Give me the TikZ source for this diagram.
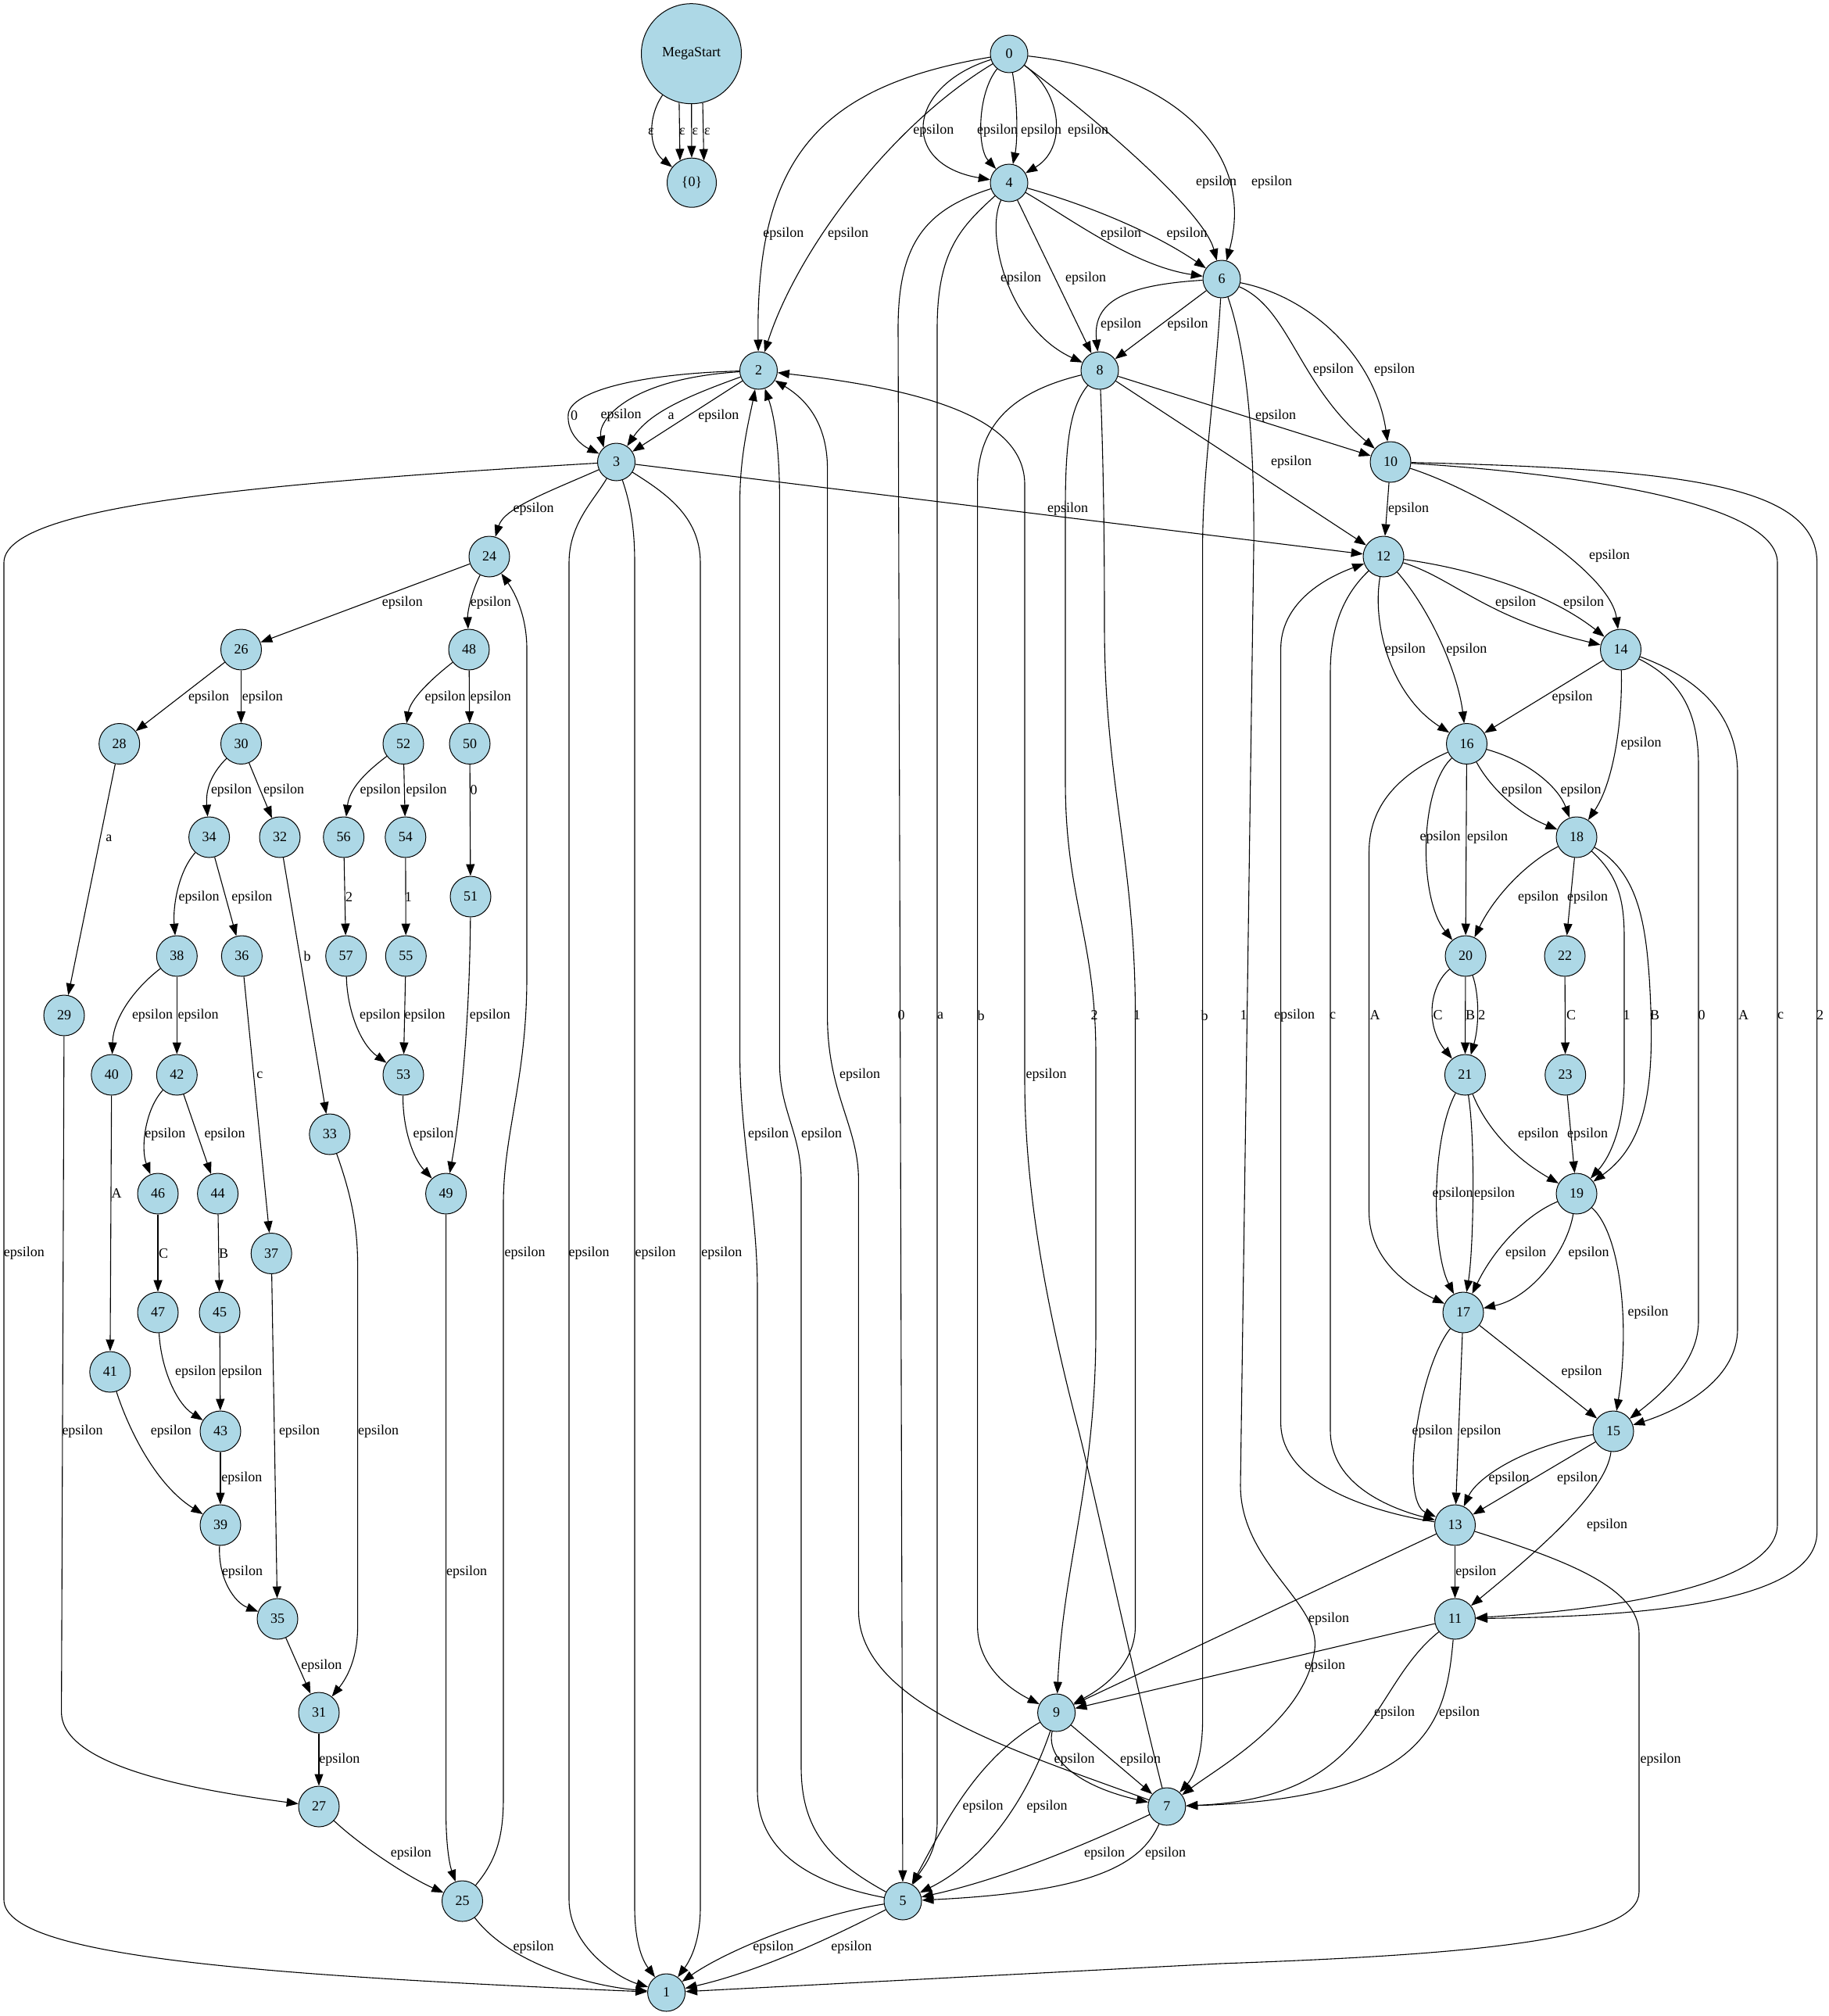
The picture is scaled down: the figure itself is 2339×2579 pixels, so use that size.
\documentclass[tikz,border=0pt]{standalone}
\usepackage{fontspec}
\setmainfont{Liberation Serif}
\usetikzlibrary{arrows.meta}
\definecolor{statefill}{HTML}{ADD8E6}
\begin{document}
\begin{tikzpicture}[x=0.5pt,y=-0.5pt,
  st/.style={circle,draw=black,fill=statefill,line width=0.5pt,inner sep=0pt,minimum size=24pt,font=\fontsize{9}{11}\selectfont},
  stw/.style={st,minimum size=26pt},
  e/.style={draw=black,line width=0.55pt,-{Triangle[length=7.5pt,width=5.5pt]}},
  lbl/.style={inner sep=0pt,font=\fontsize{9}{11}\selectfont}]
\useasboundingbox (0,0) rectangle (2339,2579);

% ---------- states ----------
\node[st,minimum size=64pt] (MS) at (884.5,68.7) {MegaStart};
\node[st,minimum size=31.5pt] (S0) at (885,233.7) {\{0\}};
\node[st] (n0) at (1291,69) {0};
\node[st] (n4) at (1291,234) {4};
\node[st] (n2) at (970.5,474) {2};
\node[st] (n8) at (1407,474) {8};
\node[st] (n6) at (1563,357) {6};
\node[st] (n3) at (788.5,591) {3};
\node[stw] (n10) at (1779,591) {10};
\node[stw] (n12) at (1770,712) {12};
\node[stw] (n24) at (626,712) {24};
\node[stw] (n26) at (308.5,831) {26};
\node[stw] (n48) at (600,831) {48};
\node[stw] (n14) at (2073.5,831) {14};
\node[stw] (n28) at (152.7,951.5) {28};
\node[stw] (n30) at (308.5,951.5) {30};
\node[stw] (n52) at (516,951.5) {52};
\node[stw] (n50) at (601,951.5) {50};
\node[stw] (n16) at (1876.5,951.5) {16};
\node[stw] (n34) at (267.6,1071) {34};
\node[stw] (n32) at (358,1071) {32};
\node[stw] (n56) at (439.7,1071) {56};
\node[stw] (n54) at (518.8,1071) {54};
\node[stw] (n18) at (2017,1071) {18};
\node[stw] (n51) at (602,1147) {51};
\node[stw] (n38) at (226.3,1223) {38};
\node[stw] (n36) at (309.4,1223) {36};
\node[stw] (n57) at (442.7,1223) {57};
\node[stw] (n55) at (519.3,1223) {55};
\node[stw] (n20) at (1875,1223) {20};
\node[stw] (n22) at (2002,1223) {22};
\node[stw] (n29) at (82,1299) {29};
\node[stw] (n40) at (142.8,1375) {40};
\node[stw] (n42) at (226.3,1375) {42};
\node[stw] (n53) at (516,1375) {53};
\node[stw] (n21) at (1874.4,1375) {21};
\node[stw] (n23) at (2002.7,1375) {23};
\node[stw] (n33) at (421.8,1451) {33};
\node[stw] (n46) at (202,1527) {46};
\node[stw] (n44) at (278.6,1527) {44};
\node[stw] (n49) at (570.6,1527) {49};
\node[stw] (n19) at (2017,1527) {19};
\node[stw] (n37) at (347.2,1603.5) {37};
\node[stw] (n47) at (202,1679) {47};
\node[stw] (n45) at (281,1679) {45};
\node[stw] (n17) at (1872,1679) {17};
\node[stw] (n41) at (140.8,1755) {41};
\node[stw] (n43) at (282,1831) {43};
\node[stw] (n15) at (2064,1831) {15};
\node[stw] (n39) at (282,1951) {39};
\node[stw] (n13) at (1861.5,1951) {13};
\node[stw] (n35) at (355,2071) {35};
\node[stw] (n11) at (1861.5,2071) {11};
\node[stw] (n31) at (408,2191) {31};
\node[st] (n9) at (1351.6,2191) {9};
\node[stw] (n27) at (408,2311) {27};
\node[st] (n7) at (1492.8,2311) {7};
\node[stw] (n25) at (591.5,2432) {25};
\node[st] (n5) at (1155,2432) {5};
\node[st] (n1) at (852.6,2549) {1};

% ---------- start fan ----------
\draw[e] (MS) .. controls (828,150) and (830,190) .. (S0);
\draw[e] (MS.256.5) -- (S0.118.4);
\draw[e] (MS) -- (S0);
\draw[e] (MS.283.5) -- (S0.61.6);

% ---------- upper block ----------
\draw[e] (n0) .. controls (1050,110) and (966.5,200) .. (n2);
\draw[e] (n0) .. controls (1140,160) and (1020,320) .. (n2);
\draw[e] (n0) .. controls (1160,110) and (1150,210) .. (n4);
\draw[e] (n0) .. controls (1250,120) and (1250,190) .. (n4);
\draw[e] (n0) .. controls (1302,130) and (1302,180) .. (n4);
\draw[e] (n0) .. controls (1360,120) and (1365,190) .. (n4);
\draw[e] (n0) .. controls (1400,150) and (1540,270) .. (n6);
\draw[e] (n0) .. controls (1480,90) and (1610,180) .. (n6);

\draw[e] (n4) .. controls (1185,268) and (1149,310) .. (1149,420) -- (n5);
\draw[e] (n4) .. controls (1230,290) and (1199,320) .. (1199,420) -- (1199,2330) .. controls (1199,2370) and (1180,2390) .. (n5);
\draw[e] (n4) .. controls (1370,280) and (1450,340) .. (n6);
\draw[e] (n4) .. controls (1400,265) and (1480,300) .. (n6);
\draw[e] (n4) .. controls (1260,300) and (1290,420) .. (n8);
\draw[e] (n4) -- (n8);

\draw[e] (n6) .. controls (1430,365) and (1398,390) .. (n8);
\draw[e] (n6) -- (n8);
\draw[e] (n6) .. controls (1650,395) and (1660,490) .. (n10);
\draw[e] (n6) .. controls (1680,380) and (1760,460) .. (n10);
\draw[e] (n6) .. controls (1555,500) and (1538.6,600) .. (1538.6,700) -- (1538.6,2200) .. controls (1538.6,2240) and (1530,2270) .. (n7);
\draw[e] (n6) .. controls (1595,450) and (1605,560) .. (1604,700) -- (1587,1900) .. controls (1587,2000) and (1690,2050) .. (1682,2110) .. controls (1670,2200) and (1560,2260) .. (n7);

\draw[e] (n8) -- (n10);
\draw[e] (n8) -- (n12);
\draw[e] (n8) .. controls (1300,500) and (1250.6,540) .. (1250.6,620) -- (1250.6,2080) .. controls (1250.6,2130) and (1290,2160) .. (n9);
\draw[e] (n8) .. controls (1370,520) and (1363,560) .. (1363,650) -- (1363,1000) .. controls (1363,1150) and (1402,1200) .. (1402,1350) -- (1402,1700) .. controls (1402,1900) and (1360,2000) .. (n9);
\draw[e] (n8) .. controls (1412,600) and (1413,700) .. (1413,800) .. controls (1413,1000) and (1452.5,1100) .. (1452.5,1300) -- (1452.5,2080) .. controls (1452.5,2130) and (1410,2160) .. (n9);

\draw[e] (n2) .. controls (820,478) and (730,500) .. (727,530) .. controls (725,555) and (745,570) .. (n3);
\draw[e] (n2) .. controls (800,485) and (764,540) .. (n3.131);
\draw[e] (n2) .. controls (870,510) and (830,530) .. (n3);
\draw[e] (n2) -- (n3);

% ---------- right block ----------
\draw[e] (n3) -- (n12);
\draw[e] (n10) -- (n12);
\draw[e] (n10) .. controls (1900,630) and (2060,730) .. (n14);
\draw[e] (n10) .. controls (2000,605) and (2274,640) .. (2274,720) -- (2274,1950) .. controls (2274,2030) and (2050,2060) .. (n11);
\draw[e] (n10) .. controls (2150,600) and (2324.6,620) .. (2324.6,720) -- (2324.6,1960) .. controls (2324.6,2060) and (2050,2068) .. (n11);

\draw[e] (n12) .. controls (1860,740) and (1900,790) .. (n14);
\draw[e] (n12) .. controls (1900,730) and (1990,765) .. (n14);
\draw[e] (n12) .. controls (1755,800) and (1780,890) .. (n16);
\draw[e] (n12) .. controls (1830,780) and (1865,860) .. (n16);
\draw[e] (n12) .. controls (1720,760) and (1702,800) .. (1702,860) -- (1702,1830) .. controls (1702,1900) and (1780,1930) .. (n13);
\draw[e] (n13) .. controls (1760,1935) and (1638.6,1900) .. (1638.6,1820) -- (1638.6,830) .. controls (1638.6,780) and (1680,745) .. (n12);

\draw[e] (n14) -- (n16);
\draw[e] (n14) .. controls (2076,920) and (2065,1000) .. (n18);
\draw[e] (n14) .. controls (2150,870) and (2173,910) .. (2173,980) -- (2173,1690) .. controls (2173,1740) and (2130,1780) .. (n15);
\draw[e] (n14) .. controls (2180,870) and (2223,920) .. (2223,990) -- (2223,1700) .. controls (2223,1760) and (2160,1800) .. (n15);

\draw[e] (n16) .. controls (1905,1005) and (1940,1040) .. (n18);
\draw[e] (n16) .. controls (1960,975) and (1995,1010) .. (n18);
\draw[e] (n16) .. controls (1815,1010) and (1815,1150) .. (n20);
\draw[e] (n16) -- (n20);
\draw[e] (n16) .. controls (1790,990) and (1751.5,1030) .. (1751.5,1090) -- (1751.5,1550) .. controls (1751.5,1610) and (1800,1645) .. (n17);

\draw[e] (n18) .. controls (1950,1105) and (1910,1150) .. (n20);
\draw[e] (n18) -- (n22);
\draw[e] (n18) .. controls (2070,1120) and (2078,1150) .. (2078,1200) -- (2078,1380) .. controls (2078,1440) and (2060,1480) .. (n19);
\draw[e] (n18) .. controls (2095,1115) and (2105,1180) .. (2110,1250) .. controls (2118,1380) and (2110,1460) .. (n19);

\draw[e] (n20) .. controls (1830,1260) and (1822,1310) .. (n21);
\draw[e] (n20) -- (n21);
\draw[e] (n20) .. controls (1892,1270) and (1893,1310) .. (n21);
\draw[e] (n22) -- (n23);

\draw[e] (n21) .. controls (1900,1440) and (1935,1480) .. (n19);
\draw[e] (n23) -- (n19);
\draw[e] (n21) .. controls (1830,1460) and (1832,1600) .. (n17);
\draw[e] (n21) .. controls (1888,1460) and (1885,1600) .. (n17);

\draw[e] (n19) .. controls (1950,1555) and (1910,1600) .. (n17);
\draw[e] (n19) .. controls (2005,1600) and (1960,1660) .. (n17);
\draw[e] (n19) .. controls (2075,1580) and (2085,1700) .. (n15);

\draw[e] (n17) -- (n15);
\draw[e] (n17) .. controls (1815,1750) and (1790,1920) .. (n13);
\draw[e] (n17) -- (n13);

\draw[e] (n15) .. controls (1950,1850) and (1890,1890) .. (n13);
\draw[e] (n15) -- (n13);
\draw[e] (n15) .. controls (2055,1910) and (1960,1990) .. (n11);

\draw[e] (n13) -- (n11);
\draw[e] (n13) -- (n9);
\draw[e] (n13) .. controls (2000,1995) and (2097,2030) .. (2097,2090) -- (2097,2420) .. controls (2097,2480) and (1900,2500) .. (1560,2512) -- (n1);

\draw[e] (n11) -- (n9);
\draw[e] (n11) .. controls (1750,2160) and (1760,2300) .. (n7);
\draw[e] (n11) .. controls (1850,2200) and (1830,2300) .. (n7);

% ---------- lower middle ----------
\draw[e] (n9) .. controls (1338,2250) and (1380,2285) .. (n7);
\draw[e] (n9) -- (n7);
\draw[e] (n9) .. controls (1250,2250) and (1210,2330) .. (n5);
\draw[e] (n9) .. controls (1315,2300) and (1260,2380) .. (n5);

\draw[e] (n7) .. controls (1420,2345) and (1300,2400) .. (n5);
\draw[e] (n7) .. controls (1460,2385) and (1400,2420) .. (n5);
\draw[e] (n7) .. controls (1440,2100) and (1405,1930) .. (1380,1830) .. controls (1330,1640) and (1311,1500) .. (1311,1380) -- (1311,620) .. controls (1311,540) and (1200,500) .. (n2);
\draw[e] (n7) .. controls (1300,2240) and (1098.4,2180) .. (1098.4,2060) -- (1098.4,1510) .. controls (1098.4,1440) and (1058.6,1400) .. (1058.6,1300) -- (1058.6,600) .. controls (1058.6,540) and (1030,510) .. (n2);

\draw[e] (n5) .. controls (1040,2450) and (930,2495) .. (n1);
\draw[e] (n5) .. controls (1080,2470) and (980,2520) .. (n1);
\draw[e] (n5) .. controls (1040,2410) and (969,2370) .. (969,2290) -- (969,1650) .. controls (969,1550) and (946.6,1450) .. (946.6,1350) -- (946.6,640) .. controls (946.6,580) and (960,530) .. (n2);
\draw[e] (n5) .. controls (1060,2380) and (1025,2340) .. (1025,2260) -- (1025,1510) .. controls (1025,1450) and (997.4,1420) .. (997.4,1360) -- (997.4,640) .. controls (997.4,570) and (990,530) .. (n2);

\draw[e] (n3) .. controls (300,620) and (5,650) .. (5,720) -- (5,2430) .. controls (5,2500) and (300,2525) .. (780,2546) -- (n1);
\draw[e] (n3) .. controls (760,640) and (728,670) .. (728,720) -- (728,2430) .. controls (728,2490) and (790,2530) .. (n1);
\draw[e] (n3) .. controls (805,640) and (812,670) .. (812,720) -- (812,2440) .. controls (812,2480) and (820,2505) .. (n1);
\draw[e] (n3) .. controls (850,630) and (896,660) .. (896,720) -- (896,2440) .. controls (896,2480) and (885,2505) .. (n1);

% ---------- left block ----------
\draw[e] (n3) .. controls (700,630) and (645,650) .. (n24);
\draw[e] (n24) -- (n26);
\draw[e] (n24) .. controls (602,760) and (598,785) .. (n48);
\draw[e] (n25) .. controls (635,2380) and (644,2350) .. (644,2300) -- (644,1540) .. controls (644,1450) and (674,1380) .. (674,1250) -- (674,830) .. controls (674,790) and (660,760) .. (n24);
\draw[e] (n26) -- (n28);
\draw[e] (n26) -- (n30);
\draw[e] (n48) .. controls (550,870) and (525,895) .. (n52);
\draw[e] (n48) -- (n50);
\draw[e] (n28) -- (n29);
\draw[e] (n30) .. controls (270,990) and (263,1010) .. (n34);
\draw[e] (n30) -- (n32);
\draw[e] (n52) .. controls (465,990) and (447,1010) .. (n56);
\draw[e] (n52) -- (n54);
\draw[e] (n50) -- (n51);
\draw[e] (n34) .. controls (228,1115) and (221,1160) .. (n38);
\draw[e] (n34) -- (n36);
\draw[e] (n32) -- (n33);
\draw[e] (n56) -- (n57);
\draw[e] (n54) -- (n55);
\draw[e] (n51) .. controls (601,1300) and (590,1420) .. (n49);
\draw[e] (n38) .. controls (175,1262) and (145,1300) .. (n40);
\draw[e] (n38) -- (n42);
\draw[e] (n36) -- (n37);
\draw[e] (n57) .. controls (444,1290) and (460,1335) .. (n53);
\draw[e] (n55) -- (n53);
\draw[e] (n40) -- (n41);
\draw[e] (n42) .. controls (185,1420) and (180,1470) .. (n46);
\draw[e] (n42) -- (n44);
\draw[e] (n53) .. controls (515,1440) and (527,1480) .. (n49);
\draw[e] (n33) .. controls (450,1530) and (457.6,1570) .. (457.6,1620) -- (457.6,2080) .. controls (457.6,2120) and (445,2145) .. (n31);
\draw[e] (n46) -- (n47);
\draw[e] (n44) -- (n45);
\draw[e] (n37) -- (n35);
\draw[e] (n47) .. controls (206,1750) and (225,1795) .. (n43);
\draw[e] (n45) -- (n43);
\draw[e] (n41) .. controls (165,1830) and (200,1900) .. (n39);
\draw[e] (n43) -- (n39);
\draw[e] (n29) -- (78.6,2190) .. controls (78.6,2260) and (250,2290) .. (n27);
\draw[e] (n39) .. controls (279,2020) and (300,2050) .. (n35);
\draw[e] (n35) -- (n31);
\draw[e] (n31) -- (n27);
\draw[e] (n27) .. controls (460,2360) and (520,2400) .. (n25);
\draw[e] (n49) -- (570.6,2320) .. controls (570.6,2360) and (575,2385) .. (n25);
\draw[e] (n25) .. controls (650,2510) and (750,2540) .. (n1);

% ---------- edge labels ----------
\node[lbl] (l1) at (833,168) {ε};
\node[lbl] (l2) at (873,168) {ε};
\node[lbl] (l3) at (889.4,168) {ε};
\node[lbl] (l4) at (905,168) {ε};
\node[lbl] (l5) at (1002.4,299) {epsilon};
\node[lbl] (l6) at (1085,299) {epsilon};
\node[lbl] (l7) at (1194.4,167.4) {epsilon};
\node[lbl] (l8) at (1276,167.4) {epsilon};
\node[lbl] (l9) at (1332,167.4) {epsilon};
\node[lbl] (l10) at (1392,167.4) {epsilon};
\node[lbl] (l11) at (1556,233.6) {epsilon};
\node[lbl] (l12) at (1627,233.6) {epsilon};
\node[lbl] (l13) at (1153,1299) {0};
\node[lbl] (l14) at (1203,1299) {a};
\node[lbl] (l15) at (1434,299) {epsilon};
\node[lbl] (l16) at (1518.7,299) {epsilon};
\node[lbl] (l17) at (1306,356.6) {epsilon};
\node[lbl] (l18) at (1389,356.6) {epsilon};
\node[lbl] (l19) at (1434,415.5) {epsilon};
\node[lbl] (l20) at (1519.7,415.5) {epsilon};
\node[lbl] (l21) at (1705.8,473) {epsilon};
\node[lbl] (l22) at (1784,473) {epsilon};
\node[lbl] (l23) at (1632,532) {epsilon};
\node[lbl] (l24) at (1652,591) {epsilon};
\node[lbl] (l25) at (1366,651) {epsilon};
\node[lbl] (l26) at (1802,651) {epsilon};
\node[lbl] (l27) at (2059,710.8) {epsilon};
\node[lbl] (l28) at (2278,1299) {c};
\node[lbl] (l29) at (2328.6,1299) {2};
\node[lbl] (l30) at (1939,771.3) {epsilon};
\node[lbl] (l31) at (2026,771.3) {epsilon};
\node[lbl] (l32) at (1797.8,831.3) {epsilon};
\node[lbl] (l33) at (1876.4,831.3) {epsilon};
\node[lbl] (l34) at (1705,1299) {c};
\node[lbl] (l35) at (1656,1299) {epsilon};
\node[lbl] (l36) at (2011.7,892) {epsilon};
\node[lbl] (l37) at (2099.7,951.5) {epsilon};
\node[lbl] (l38) at (2177,1299) {0};
\node[lbl] (l39) at (2230.6,1299) {A};
\node[lbl] (l40) at (1947,1011) {epsilon};
\node[lbl] (l41) at (2022.6,1011) {epsilon};
\node[lbl] (l42) at (1842.5,1071) {epsilon};
\node[lbl] (l43) at (1903,1071) {epsilon};
\node[lbl] (l44) at (1759,1299) {A};
\node[lbl] (l45) at (1968,1147.7) {epsilon};
\node[lbl] (l46) at (2031,1147.7) {epsilon};
\node[lbl] (l47) at (2081,1299) {1};
\node[lbl] (l48) at (2117,1299) {B};
\node[lbl] (l49) at (1839.6,1299) {C};
\node[lbl] (l50) at (1881,1299) {B};
\node[lbl] (l51) at (1895.8,1299) {2};
\node[lbl] (l52) at (2010,1299) {C};
\node[lbl] (l53) at (1968,1451.3) {epsilon};
\node[lbl] (l54) at (2031,1451.3) {epsilon};
\node[lbl] (l55) at (1858.5,1527) {epsilon};
\node[lbl] (l56) at (1912,1527) {epsilon};
\node[lbl] (l57) at (1952,1603.5) {epsilon};
\node[lbl] (l58) at (2032.6,1603.5) {epsilon};
\node[lbl] (l59) at (2108.7,1679) {epsilon};
\node[lbl] (l60) at (2023.6,1755) {epsilon};
\node[lbl] (l61) at (1832.6,1831.3) {epsilon};
\node[lbl] (l62) at (1894.3,1831.3) {epsilon};
\node[lbl] (l63) at (1930.6,1891.4) {epsilon};
\node[lbl] (l64) at (2018,1891.4) {epsilon};
\node[lbl] (l65) at (2056,1951) {epsilon};
\node[lbl] (l66) at (1888.3,2011) {epsilon};
\node[lbl] (l67) at (1700,2071) {epsilon};
\node[lbl] (l68) at (1695,2131.5) {epsilon};
\node[lbl] (l69) at (2124.6,2251.6) {epsilon};
\node[lbl] (l70) at (1784,2191) {epsilon};
\node[lbl] (l71) at (1867,2191) {epsilon};
\node[lbl] (l72) at (1541,1299) {b};
\node[lbl] (l73) at (1591,1299) {1};
\node[lbl] (l74) at (1255,1299) {b};
\node[lbl] (l75) at (1400,1299) {2};
\node[lbl] (l76) at (1454.5,1299) {1};
\node[lbl] (l77) at (1338.6,1375) {epsilon};
\node[lbl] (l78) at (1100,1375) {epsilon};
\node[lbl] (l79) at (1374.5,2251.6) {epsilon};
\node[lbl] (l80) at (1459,2251.6) {epsilon};
\node[lbl] (l81) at (1257.5,2311) {epsilon};
\node[lbl] (l82) at (1339.6,2311) {epsilon};
\node[lbl] (l83) at (1413,2371) {epsilon};
\node[lbl] (l84) at (1491,2371) {epsilon};
\node[lbl] (l85) at (989.4,2491) {epsilon};
\node[lbl] (l86) at (1089.4,2491) {epsilon};
\node[lbl] (l87) at (983,1451.3) {epsilon};
\node[lbl] (l88) at (1051,1451.3) {epsilon};
\node[lbl] (l89) at (30.8,1603.5) {epsilon};
\node[lbl] (l90) at (753.6,1603.5) {epsilon};
\node[lbl] (l91) at (838.7,1603.5) {epsilon};
\node[lbl] (l92) at (923.3,1603.5) {epsilon};
\node[lbl] (l93) at (734.7,531.9) {0};
\node[lbl] (l94) at (794.5,531.5) {epsilon};
\node[lbl] (l95) at (858.6,531.9) {a};
\node[lbl] (l96) at (919.3,531.9) {epsilon};
\node[lbl] (l97) at (682.5,651) {epsilon};
\node[lbl] (l98) at (514.9,771.3) {epsilon};
\node[lbl] (l99) at (627.8,771.3) {epsilon};
\node[lbl] (l100) at (671.5,1603.5) {epsilon};
\node[lbl] (l101) at (267,892) {epsilon};
\node[lbl] (l102) at (335.8,892) {epsilon};
\node[lbl] (l103) at (569.6,892) {epsilon};
\node[lbl] (l104) at (627.8,892) {epsilon};
\node[lbl] (l105) at (139.3,1072.8) {a};
\node[lbl] (l106) at (296,1011) {epsilon};
\node[lbl] (l107) at (363,1011) {epsilon};
\node[lbl] (l108) at (486.5,1011) {epsilon};
\node[lbl] (l109) at (545.7,1011) {epsilon};
\node[lbl] (l110) at (606,1011) {0};
\node[lbl] (l111) at (254.7,1147.7) {epsilon};
\node[lbl] (l112) at (322.3,1147.7) {epsilon};
\node[lbl] (l113) at (393,1223) {b};
\node[lbl] (l114) at (446.7,1147.7) {2};
\node[lbl] (l115) at (522.3,1147.7) {1};
\node[lbl] (l116) at (626.8,1299) {epsilon};
\node[lbl] (l117) at (195,1299) {epsilon};
\node[lbl] (l118) at (253.7,1299) {epsilon};
\node[lbl] (l119) at (332.3,1375) {c};
\node[lbl] (l120) at (486,1299) {epsilon};
\node[lbl] (l121) at (543.7,1299) {epsilon};
\node[lbl] (l122) at (149.2,1527) {A};
\node[lbl] (l123) at (211.4,1451) {epsilon};
\node[lbl] (l124) at (287.5,1451) {epsilon};
\node[lbl] (l125) at (554.6,1451) {epsilon};
\node[lbl] (l126) at (484,1831.3) {epsilon};
\node[lbl] (l127) at (209,1603.5) {C};
\node[lbl] (l128) at (286,1603.5) {B};
\node[lbl] (l129) at (383,1831.3) {epsilon};
\node[lbl] (l130) at (250.2,1755) {epsilon};
\node[lbl] (l131) at (309.4,1755) {epsilon};
\node[lbl] (l132) at (218.9,1831.3) {epsilon};
\node[lbl] (l133) at (309.4,1891.4) {epsilon};
\node[lbl] (l134) at (105.5,1831.3) {epsilon};
\node[lbl] (l135) at (310,2011) {epsilon};
\node[lbl] (l136) at (411.4,2131.5) {epsilon};
\node[lbl] (l137) at (434.3,2251.6) {epsilon};
\node[lbl] (l138) at (525.8,2371) {epsilon};
\node[lbl] (l139) at (597,2011) {epsilon};
\node[lbl] (l140) at (682.5,2491) {epsilon};
\end{tikzpicture}
\end{document}
